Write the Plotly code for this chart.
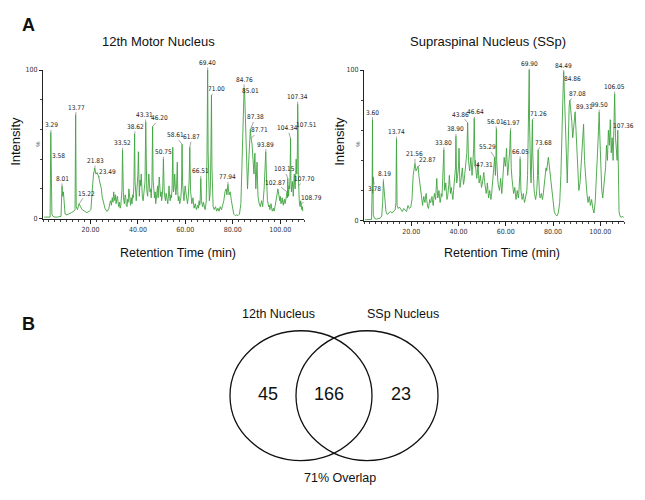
import plotly.graph_objects as go

# ---------------- data ----------------
LEFT_TITLE = "12th Motor Nucleus"
RIGHT_TITLE = "Supraspinal Nucleus (SSp)"

# chromatogram of the 12th motor nucleus: (retention time, relative intensity %)
LEFT_POINTS = [
    (0.5, 1), (1.5, 1), (2.5, 1), (3.0, 1), (3.29, 58), (3.42, 20), (3.58, 40), (3.75, 3),
    (4.2, 1.5), (5.0, 1), (6.0, 1), (7.0, 1), (7.6, 1.5), (8.01, 22), (8.3, 15), (8.6, 18),
    (8.9, 8), (9.3, 3), (10.0, 2.5), (11.0, 3), (12.0, 4), (13.0, 5), (13.5, 6), (13.77, 70),
    (14.0, 8), (14.5, 6), (15.22, 10), (15.8, 8), (16.5, 6), (17.5, 5), (18.5, 4), (19.5, 5),
    (20.2, 6), (20.8, 20), (21.3, 30), (21.83, 34), (22.3, 30), (22.8, 31), (23.49, 28),
    (24.0, 24), (24.3, 22), (24.6, 20), (24.9, 15), (25.2, 12), (25.5, 10), (25.8, 9), (26.1, 7),
    (26.5, 6), (26.8, 5), (27.2, 5), (27.5, 6), (27.8, 7), (28.1, 10), (28.5, 12), (28.8, 9),
    (29.2, 14), (29.5, 11), (29.8, 18), (30.1, 14), (30.3, 12), (30.6, 16), (30.8, 10), (31.1, 13),
    (31.4, 15), (31.7, 10), (31.9, 8), (32.2, 11), (32.5, 7), (32.8, 9), (33.0, 12), (33.3, 20),
    (33.52, 46), (33.7, 22), (33.9, 14), (34.1, 12), (34.3, 10), (34.6, 16), (34.9, 14), (35.1, 9),
    (35.4, 8), (35.7, 13), (35.9, 11), (36.2, 20), (36.4, 16), (36.7, 12), (36.9, 9), (37.2, 14),
    (37.5, 10), (37.8, 16), (38.0, 14), (38.3, 22), (38.62, 57), (38.8, 25), (39.0, 18), (39.3, 12),
    (39.6, 20), (39.8, 25), (40.0, 30), (40.2, 45), (40.4, 22), (40.6, 15), (40.9, 26), (41.2, 22),
    (41.4, 30), (41.7, 18), (41.9, 14), (42.2, 12), (42.5, 20), (42.7, 18), (43.0, 25), (43.31, 65),
    (43.5, 28), (43.7, 20), (43.9, 17), (44.1, 15), (44.4, 24), (44.6, 30), (44.9, 22), (45.1, 18),
    (45.4, 20), (45.6, 14), (45.9, 24), (46.20, 62), (46.4, 26), (46.6, 20), (46.8, 16), (47.0, 14),
    (47.3, 18), (47.5, 10), (47.8, 14), (48.0, 18), (48.3, 22), (48.5, 14), (48.8, 20), (49.0, 28),
    (49.3, 20), (49.5, 15), (49.8, 18), (50.0, 12), (50.3, 16), (50.5, 22), (50.75, 40), (50.9, 25),
    (51.1, 18), (51.4, 14), (51.6, 12), (51.9, 17), (52.1, 15), (52.4, 12), (52.6, 10), (52.9, 16),
    (53.1, 22), (53.4, 15), (53.6, 12), (53.9, 16), (54.1, 14), (54.4, 20), (54.7, 48), (54.9, 24),
    (55.0, 18), (55.3, 22), (55.5, 30), (55.8, 20), (56.0, 16), (56.3, 22), (56.6, 38), (56.8, 18),
    (57.0, 12), (57.3, 15), (57.6, 10), (57.9, 12), (58.1, 14), (58.4, 22), (58.61, 50), (58.8, 25),
    (58.9, 20), (59.2, 15), (59.4, 12), (59.7, 16), (59.9, 22), (60.2, 18), (60.4, 14), (60.7, 12),
    (60.9, 10), (61.2, 14), (61.4, 20), (61.6, 26), (61.87, 48), (62.0, 24), (62.2, 18), (62.5, 14),
    (62.7, 10), (63.0, 12), (63.2, 14), (63.5, 9), (63.7, 7), (64.0, 9), (64.2, 10), (64.5, 7),
    (64.7, 6), (65.0, 8), (65.2, 9), (65.5, 7), (65.8, 12), (66.0, 9), (66.2, 10), (66.51, 27),
    (66.7, 14), (66.8, 12), (67.1, 9), (67.3, 8), (67.6, 11), (67.8, 10), (68.1, 7), (68.3, 6),
    (68.6, 9), (68.8, 12), (69.1, 40), (69.40, 100), (69.6, 45), (69.7, 30), (69.9, 18), (70.1, 12),
    (70.4, 16), (70.6, 25), (70.8, 50), (71.00, 83), (71.2, 35), (71.3, 20), (71.5, 12), (71.7, 8),
    (72.2, 6), (72.7, 8), (73.2, 5), (73.7, 7), (74.2, 5), (74.7, 8), (75.2, 6), (75.7, 9),
    (76.2, 12), (76.7, 18), (77.2, 20), (77.5, 16), (77.94, 23), (78.4, 16), (78.9, 18), (79.4, 12),
    (79.9, 8), (80.4, 3), (81.0, 2), (81.6, 2.5), (82.2, 2), (82.8, 3), (83.4, 10), (83.9, 40),
    (84.3, 75), (84.76, 88), (85.01, 83), (85.4, 60), (85.8, 40), (86.2, 20), (86.6, 35), (87.0, 55),
    (87.38, 60), (87.71, 54), (88.1, 50), (88.5, 40), (88.9, 30), (89.3, 44), (89.7, 20), (90.2, 38),
    (90.6, 15), (91.1, 10), (91.6, 8), (92.1, 12), (92.6, 8), (93.2, 20), (93.89, 45), (94.2, 28),
    (94.4, 18), (94.6, 12), (94.9, 10), (95.1, 8), (95.4, 9), (95.6, 6), (95.9, 8), (96.1, 10),
    (96.4, 7), (96.6, 5), (96.9, 6), (97.1, 7), (97.4, 5), (97.6, 6), (97.9, 9), (98.2, 12),
    (98.5, 16), (98.7, 15), (99.0, 20), (99.2, 18), (99.5, 14), (99.8, 12), (100.0, 15), (100.3, 10),
    (100.6, 12), (100.8, 14), (101.0, 11), (101.3, 9), (101.5, 12), (101.8, 13), (102.0, 10),
    (102.3, 12), (102.6, 15), (102.87, 18), (103.0, 14), (103.15, 27), (103.3, 18), (103.5, 15),
    (103.7, 22), (103.9, 20), (104.1, 28), (104.34, 54), (104.5, 25), (104.7, 18), (104.9, 22),
    (105.1, 25), (105.3, 16), (105.5, 15), (105.7, 24), (105.9, 30), (106.1, 22), (106.3, 20),
    (106.5, 30), (106.7, 40), (106.9, 32), (107.0, 30), (107.2, 45), (107.34, 77), (107.45, 50),
    (107.51, 60), (107.6, 30), (107.70, 22), (107.85, 15), (108.0, 12), (108.2, 9), (108.4, 8),
    (108.6, 12), (108.79, 10), (108.95, 7), (109.1, 6), (109.3, 8), (109.5, 5),
]

# chromatogram of the supraspinal nucleus
RIGHT_POINTS = [
    (0.3, 0.5), (1.5, 0.5), (2.5, 0.6), (3.2, 0.8), (3.45, 22), (3.60, 67), (3.70, 18), (3.78, 29),
    (3.92, 4), (4.4, 1.5), (5.2, 1), (6.0, 1.2), (6.8, 1.5), (7.5, 3), (7.9, 12), (8.19, 26),
    (8.5, 20), (8.9, 12), (9.3, 6), (9.8, 4), (10.5, 5), (11.2, 6), (11.8, 5), (12.5, 6), (13.2, 7),
    (13.5, 12), (13.74, 54), (14.0, 10), (14.5, 8), (15.0, 9), (15.6, 7), (16.2, 6), (16.8, 8),
    (17.4, 7), (18.0, 6), (18.6, 10), (19.2, 8), (19.8, 9), (20.3, 14), (20.8, 30), (21.2, 35),
    (21.56, 38), (22.0, 33), (22.4, 35), (22.87, 36), (23.3, 29), (23.8, 22), (24.0, 18), (24.3, 14),
    (24.5, 12), (24.8, 10), (25.0, 13), (25.3, 16), (25.5, 14), (25.8, 12), (26.0, 15), (26.3, 18),
    (26.5, 14), (26.8, 10), (27.0, 9), (27.3, 8), (27.5, 11), (27.8, 14), (28.0, 12), (28.3, 12),
    (28.5, 15), (28.8, 16), (29.0, 12), (29.3, 10), (29.5, 14), (29.8, 18), (30.0, 16), (30.3, 14),
    (30.5, 20), (30.8, 28), (31.0, 20), (31.2, 15), (31.5, 17), (31.7, 20), (32.0, 15), (32.2, 12),
    (32.5, 15), (32.7, 18), (33.0, 16), (33.2, 22), (33.5, 30), (33.80, 47), (34.0, 26), (34.1, 20),
    (34.4, 22), (34.6, 25), (34.9, 18), (35.1, 14), (35.4, 16), (35.6, 18), (35.9, 24), (36.1, 30),
    (36.4, 22), (36.6, 18), (36.9, 22), (37.1, 20), (37.4, 16), (37.6, 14), (37.9, 20), (38.1, 25),
    (38.3, 30), (38.5, 28), (38.7, 35), (38.90, 56), (39.0, 32), (39.2, 25), (39.5, 28), (39.7, 30),
    (40.0, 36), (40.2, 48), (40.4, 30), (40.6, 22), (40.9, 25), (41.1, 28), (41.4, 32), (41.6, 35),
    (41.9, 28), (42.1, 24), (42.4, 27), (42.6, 30), (42.9, 34), (43.1, 38), (43.5, 45), (43.86, 65),
    (44.0, 45), (44.2, 40), (44.5, 36), (44.7, 33), (45.0, 38), (45.2, 42), (45.5, 35), (45.7, 30),
    (45.9, 34), (46.1, 38), (46.4, 48), (46.64, 68), (46.8, 45), (46.95, 36), (47.1, 40), (47.31, 34),
    (47.5, 30), (47.7, 28), (48.0, 32), (48.2, 38), (48.5, 30), (48.7, 25), (49.0, 27), (49.2, 30),
    (49.5, 26), (49.7, 22), (50.0, 24), (50.2, 28), (50.5, 30), (50.7, 32), (51.0, 26), (51.2, 22),
    (51.5, 20), (51.7, 18), (52.0, 21), (52.2, 25), (52.5, 19), (52.7, 15), (53.0, 18), (53.2, 20),
    (53.5, 16), (53.7, 14), (54.0, 18), (54.2, 22), (54.5, 25), (54.7, 28), (55.0, 33), (55.29, 42),
    (55.45, 35), (55.6, 30), (55.8, 40), (56.01, 61), (56.15, 40), (56.3, 30), (56.6, 27), (56.8, 24),
    (57.1, 22), (57.3, 20), (57.6, 24), (57.8, 28), (58.1, 22), (58.3, 18), (58.6, 25), (58.8, 30),
    (59.1, 36), (59.3, 42), (59.6, 38), (59.8, 36), (60.1, 42), (60.3, 48), (60.6, 36), (60.8, 30),
    (61.1, 35), (61.4, 40), (61.7, 48), (61.97, 60), (62.1, 45), (62.3, 35), (62.6, 28), (62.8, 25),
    (63.1, 21), (63.3, 18), (63.6, 20), (63.8, 22), (64.1, 17), (64.3, 14), (64.6, 17), (64.8, 20),
    (65.1, 17), (65.3, 15), (65.5, 18), (65.7, 22), (65.9, 30), (66.05, 41), (66.2, 28), (66.4, 20),
    (66.7, 16), (66.9, 14), (67.2, 16), (67.4, 18), (67.7, 14), (67.9, 12), (68.2, 14), (68.4, 16),
    (68.7, 18), (68.9, 20), (69.2, 30), (69.4, 45), (69.6, 70), (69.90, 100), (70.05, 65), (70.2, 40),
    (70.5, 30), (70.7, 25), (71.0, 40), (71.26, 67), (71.4, 45), (71.6, 30), (71.9, 22), (72.1, 18),
    (72.4, 16), (72.6, 14), (72.9, 17), (73.1, 20), (73.4, 30), (73.68, 47), (73.85, 30), (74.0, 20),
    (74.3, 17), (74.5, 15), (74.8, 16), (75.0, 18), (75.3, 16), (75.5, 14), (75.8, 17), (76.0, 20),
    (76.3, 24), (76.5, 28), (76.8, 32), (77.0, 35), (77.3, 33), (77.5, 38), (77.8, 40), (78.0, 42),
    (78.3, 38), (78.5, 35), (78.8, 31), (79.0, 28), (79.3, 24), (79.5, 20), (79.8, 15), (80.0, 12),
    (80.5, 6), (81.0, 4), (81.6, 3), (82.2, 5), (82.8, 12), (83.3, 30), (83.8, 70), (84.2, 85),
    (84.49, 99), (84.7, 85), (84.86, 91), (85.2, 70), (85.6, 45), (86.0, 25), (86.4, 55), (86.8, 76),
    (87.08, 80), (87.5, 74), (87.9, 66), (88.3, 55), (88.8, 64), (89.31, 72), (89.7, 60), (90.1, 45),
    (90.5, 30), (90.9, 20), (91.4, 25), (91.9, 40), (92.4, 55), (92.9, 64), (93.3, 40), (93.8, 25),
    (94.3, 18), (94.8, 12), (95.3, 16), (95.8, 10), (96.3, 14), (96.8, 8), (97.3, 5), (97.8, 12),
    (98.3, 25), (98.8, 45), (99.2, 60), (99.50, 72), (99.8, 55), (100.2, 30), (100.6, 20),
    (101.0, 15), (101.4, 22), (101.8, 28), (102.2, 35), (102.6, 50), (103.0, 40), (103.4, 60),
    (103.8, 50), (104.2, 67), (104.6, 45), (105.0, 55), (105.4, 40), (105.7, 60), (106.05, 84),
    (106.4, 55), (106.8, 45), (107.1, 40), (107.36, 60), (107.6, 20), (107.9, 6), (108.3, 3),
    (108.8, 2), (109.3, 3), (109.8, 2),
]

LEFT_TIME = [p[0] for p in LEFT_POINTS]
LEFT_INTENSITY = [p[1] for p in LEFT_POINTS]
RIGHT_TIME = [p[0] for p in RIGHT_POINTS]
RIGHT_INTENSITY = [p[1] for p in RIGHT_POINTS]

# labelled peaks (retention time, intensity)
LEFT_PEAK_TIME = [3.29, 3.58, 8.01, 13.77, 15.22, 21.83, 23.49, 33.52, 38.62, 43.31, 46.20, 50.75,
                  58.61, 61.87, 66.51, 69.40, 71.00, 77.94, 84.76, 85.01, 87.38, 87.71, 93.89,
                  102.87, 103.15, 104.34, 107.34, 107.51, 107.70, 108.79]
LEFT_PEAK_INT = [58, 40, 22, 70, 10, 34, 28, 46, 57, 65, 62, 40,
                 50, 48, 27, 100, 83, 23, 88, 83, 60, 54, 45,
                 18, 27, 54, 77, 60, 22, 10]
RIGHT_PEAK_TIME = [3.60, 3.78, 8.19, 13.74, 21.56, 22.87, 33.80, 38.90, 43.86, 46.64, 47.31, 55.29,
                   56.01, 61.97, 66.05, 69.90, 71.26, 73.68, 84.49, 84.86, 87.08, 89.31, 99.50,
                   106.05, 107.36]
RIGHT_PEAK_INT = [67, 29, 26, 54, 38, 36, 47, 56, 65, 68, 34, 42,
                  61, 60, 41, 100, 67, 47, 99, 91, 80, 72, 72,
                  84, 60]

X_TICKS = [20, 40, 60, 80, 100]
X_TICK_TEXT = ["20.00", "40.00", "60.00", "80.00", "100.00"]
Y_TICKS = [0, 100]
Y_TICK_TEXT = ["0", "100"]

VENN_SETS = ["12th Nucleus", "SSp Nucleus"]
VENN_COUNTS = [45, 166, 23]  # only-left, shared, only-right
OVERLAP_TEXT = "71% Overlap"

# ---------------- styling / layout ----------------
OFF = 8                 # page body margin of the html page
FW, FH = 645 - OFF, 500 - OFF
SANS = "Liberation Sans, Arial, Helvetica, sans-serif"
NARROW = "Liberation Sans Narrow, Arial Narrow, DejaVu Sans Condensed, sans-serif"
GREEN = "#3fa43f"
LBL = 6.5

# label offsets in pixels (text centre relative to the peak top)
LEFT_OFFSETS = [(1, -7), (7, -3), (0, -7), (1, -7), (7, -10), (1, -7), (9, -5), (0, -7), (1, -7),
                (-1, -7), (7, -8), (0, -7), (-7, -9), (2, -10), (0, -7), (0, -7), (5, -6), (0, -7),
                (0, -8), (6, -4), (5, -12), (8, -8), (0, -7), (-12, -9), (-3, -9), (-3, -10),
                (0, -7), (8, -4), (6, -7), (10, -6)]
RIGHT_OFFSETS = [(0, -7), (2, 12), (1, -7), (0, -7), (0, -9), (9, -6), (0, -7), (0, -7), (-7, -8),
                 (1, -6), (9, -4), (-7, -10), (-1, -7), (1, -7), (0, -7), (0, -6), (6, -6), (5, -7),
                 (0, -6), (8, -5), (8, -6), (9, -5), (0, -7), (0, -7), (6, -4)]


def px_x(p):
    return (p - OFF) / FW


def px_y(p):
    return 1 - (p - OFF) / FH


fig = go.Figure()
fig.add_trace(go.Scatter(x=LEFT_TIME, y=LEFT_INTENSITY, mode="lines",
                         line=dict(color=GREEN, width=0.9), xaxis="x", yaxis="y",
                         cliponaxis=False, hoverinfo="skip"))
fig.add_trace(go.Scatter(x=RIGHT_TIME, y=RIGHT_INTENSITY, mode="lines",
                         line=dict(color=GREEN, width=0.9), xaxis="x2", yaxis="y2",
                         cliponaxis=False, hoverinfo="skip"))


def xaxis(domain, anchor):
    return dict(domain=domain, range=[0, 110], anchor=anchor, showline=True, linecolor="#222",
                linewidth=1, ticks="outside", ticklen=4, tickwidth=1, tickcolor="#222",
                tickvals=X_TICKS, ticktext=X_TICK_TEXT,
                tickfont=dict(family=NARROW, size=7, color="#333"),
                minor=dict(ticks="outside", ticklen=2, tickcolor="#444", dtick=2.5, tick0=0),
                showgrid=False, zeroline=False, fixedrange=True)


def yaxis(domain, anchor):
    return dict(domain=domain, range=[0, 100], anchor=anchor, showline=True, linecolor="#222",
                linewidth=1, ticks="outside", ticklen=3, tickcolor="#222",
                tickvals=Y_TICKS, ticktext=Y_TICK_TEXT,
                tickfont=dict(family=NARROW, size=7, color="#333"),
                minor=dict(ticks="outside", ticklen=2, tickcolor="#444", dtick=20, tick0=0),
                showgrid=False, zeroline=False, fixedrange=True)


fig.update_layout(
    width=FW, height=FH, margin=dict(l=0, r=0, t=0, b=0),
    paper_bgcolor="white", plot_bgcolor="rgba(0,0,0,0)", showlegend=False,
    xaxis=xaxis([px_x(43), px_x(304)], "y"),
    yaxis=yaxis([px_y(218), px_y(67)], "x"),
    xaxis2=xaxis([px_x(364), px_x(624)], "y2"),
    yaxis2=yaxis([px_y(220), px_y(67)], "x2"),
    xaxis3=dict(domain=[0, 1], range=[OFF, 645], visible=False, anchor="y3", fixedrange=True),
    yaxis3=dict(domain=[0, px_y(280)], range=[500, 280], visible=False, anchor="x3", fixedrange=True),
)

ann = []


def text(x, y, s, size, family=SANS, bold=False, angle=0, color="#111"):
    ann.append(dict(x=px_x(x), y=px_y(y), xref="paper", yref="paper",
                    text=f"<b>{s}</b>" if bold else s,
                    showarrow=False, xanchor="center", yanchor="middle", textangle=angle,
                    font=dict(family=family, size=size, color=color)))


text(28, 21, "A", 18, bold=True)
text(28, 325, "B", 18, bold=True)
text(158, 38, LEFT_TITLE, 13)
text(488, 38, RIGHT_TITLE, 13)
text(16, 140, "Intensity", 13, angle=-90)
text(340, 140, "Intensity", 13, angle=-90)
text(38, 142, "%", 6, angle=-90, color="#444")
text(358, 142, "%", 6, angle=-90, color="#444")
text(178, 253, "Retention Time (min)", 12.5)
text(502, 253, "Retention Time (min)", 12.5)

for times, ints, offs, xr, yr in [(LEFT_PEAK_TIME, LEFT_PEAK_INT, LEFT_OFFSETS, "x", "y"),
                                  (RIGHT_PEAK_TIME, RIGHT_PEAK_INT, RIGHT_OFFSETS, "x2", "y2")]:
    for t, v, (dx, dy) in zip(times, ints, offs):
        ann.append(dict(x=t, y=v, xref=xr, yref=yr, text=f"{t:.2f}", showarrow=True,
                        arrowhead=0, arrowwidth=0.6, arrowcolor="#666", ax=dx, ay=dy,
                        standoff=0, startstandoff=0, borderpad=0,
                        font=dict(family=NARROW, size=LBL, color="#222")))

# Venn diagram (drawn in a pixel-scaled helper axis)
shapes = [
    dict(type="circle", xref="x3", yref="y3", x0=230, x1=372, y0=332, y1=464,
         line=dict(color="#111", width=1.3)),
    dict(type="circle", xref="x3", yref="y3", x0=296, x1=438, y0=332, y1=464,
         line=dict(color="#111", width=1.3)),
]
for xx, yy, s, size in [(278, 315, VENN_SETS[0], 12.5), (403, 315, VENN_SETS[1], 12.5),
                        (268, 396, str(VENN_COUNTS[0]), 18), (329, 396, str(VENN_COUNTS[1]), 18),
                        (401, 396, str(VENN_COUNTS[2]), 18), (340, 482, OVERLAP_TEXT, 12.5)]:
    ann.append(dict(x=xx, y=yy, xref="x3", yref="y3", text=s, showarrow=False,
                    xanchor="center", yanchor="middle",
                    font=dict(family=SANS, size=size, color="#111")))

fig.update_layout(annotations=ann, shapes=shapes)
fig.write_html("out.html")
